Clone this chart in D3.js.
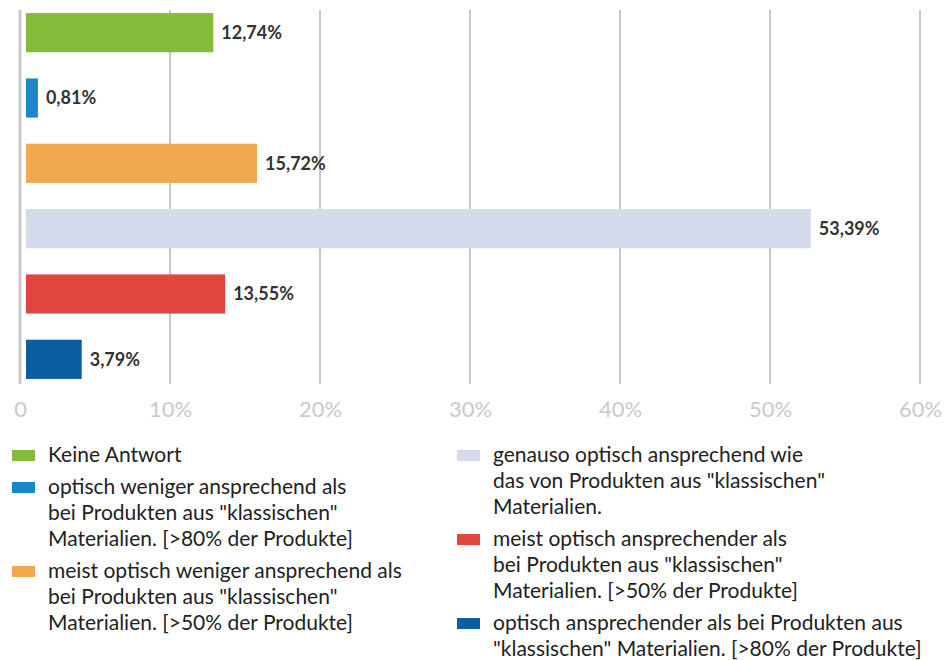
<!DOCTYPE html>
<html>
<head>
<meta charset="utf-8">
<script src="https://d3js.org/d3.v7.min.js"></script>
<style>
    body { margin: 0; background: #fff; }
    svg { width: 944px; height: 660px; font-family: Lato, "Open Sans", sans-serif; }
</style>
</head>
<body>
<svg></svg>
<script>
    // answer categories (legend lines) and their shares in percent
    var labels = [
        ['Keine Antwort'],
        ['optisch weniger ansprechend als', 'bei Produkten aus "klassischen"', 'Materialien. [>80% der Produkte]'],
        ['meist optisch weniger ansprechend als', 'bei Produkten aus "klassischen"', 'Materialien. [>50% der Produkte]'],
        ['genauso optisch ansprechend wie', 'das von Produkten aus "klassischen"', 'Materialien.'],
        ['meist optisch ansprechender als', 'bei Produkten aus "klassischen"', 'Materialien. [>50% der Produkte]'],
        ['optisch ansprechender als bei Produkten aus', '"klassischen" Materialien. [>80% der Produkte]']
    ];
    var values = [12.74, 0.81, 15.72, 53.39, 13.55, 3.79];
    var colors = ['#84bb3b', '#1a88c8', '#f0a94d', '#d5dbea', '#e24641', '#0b5fa0'];
    var ticks = [0, 10, 20, 30, 40, 50, 60];

    var svg = d3.select('svg');

    var x = d3.scaleLinear()
        .domain([0, 60])
        .range([20, 920]);
    // bars start a little right of the axis line
    var xb = d3.scaleLinear()
        .domain([0, 60])
        .range([26, 908]);
    var y = d3.scaleBand()
        .domain(d3.range(values.length))
        .range([0, 392])
        .paddingInner(0.4)
        .paddingOuter(0.2);

    // grid
    svg.append('g')
        .selectAll('line')
        .data(ticks.slice(1))
        .enter()
        .append('line')
        .attr('x1', function(d) { return x(d); })
        .attr('x2', function(d) { return x(d); })
        .attr('y1', 10)
        .attr('y2', 384)
        .attr('stroke', '#c8c8c8')
        .attr('stroke-width', 2);

    svg.append('line')
        .attr('x1', x(0)).attr('x2', x(0))
        .attr('y1', 10).attr('y2', 384)
        .attr('stroke', '#c8c8c8')
        .attr('stroke-width', 3);

    // tick labels
    var xAxis = d3.axisBottom(x)
        .tickValues(ticks)
        .tickSize(0)
        .tickPadding(0)
        .tickFormat(function(d) { return d === 0 ? '0' : d + '%'; });
    var ax = svg.append('g')
        .attr('transform', 'translate(0, 401)')
        .call(xAxis);
    ax.select('.domain').remove();
    ax.selectAll('text')
        .attr('fill', '#cacaca')
        .style('font-size', '22px')
        .style('font-family', 'Lato, "Open Sans", sans-serif');

    // bars
    svg.append('g')
        .selectAll('rect')
        .data(values)
        .enter()
        .append('rect')
        .attr('x', xb(0))
        .attr('y', function(d, i) { return y(i); })
        .attr('width', function(d) { return xb(d) - xb(0); })
        .attr('height', y.bandwidth())
        .attr('fill', function(d, i) { return colors[i]; });

    svg.append('g')
        .selectAll('text')
        .data(values)
        .enter()
        .append('text')
        .attr('x', function(d) { return xb(d) + 8; })
        .attr('y', function(d, i) { return y(i) + y.bandwidth() / 2; })
        .attr('dy', '0.36em')
        .attr('fill', '#333')
        .style('font-size', '18px')
        .style('font-weight', 'bold')
        .text(function(d) { return d.toFixed(2).replace('.', ',') + '%'; });

    // legend, two columns
    var cols = [{x: 12, items: [0, 1, 2]}, {x: 457, items: [3, 4, 5]}];
    var lineH = 26;
    cols.forEach(function(c) {
        var yy = 462;
        c.items.forEach(function(i) {
            var g = svg.append('g');
            g.append('rect')
                .attr('x', c.x)
                .attr('y', yy - 12)
                .attr('width', 23)
                .attr('height', 11)
                .attr('fill', colors[i]);
            g.append('text')
                .attr('fill', '#222')
                .style('font-size', '21px')
                .selectAll('tspan')
                .data(labels[i])
                .enter()
                .append('tspan')
                .attr('x', c.x + 36)
                .attr('y', function(d, k) { return yy + k * lineH; })
                .text(function(d) { return d; });
            yy += labels[i].length * lineH + 6;
        });
    });
</script>
</body>
</html>
